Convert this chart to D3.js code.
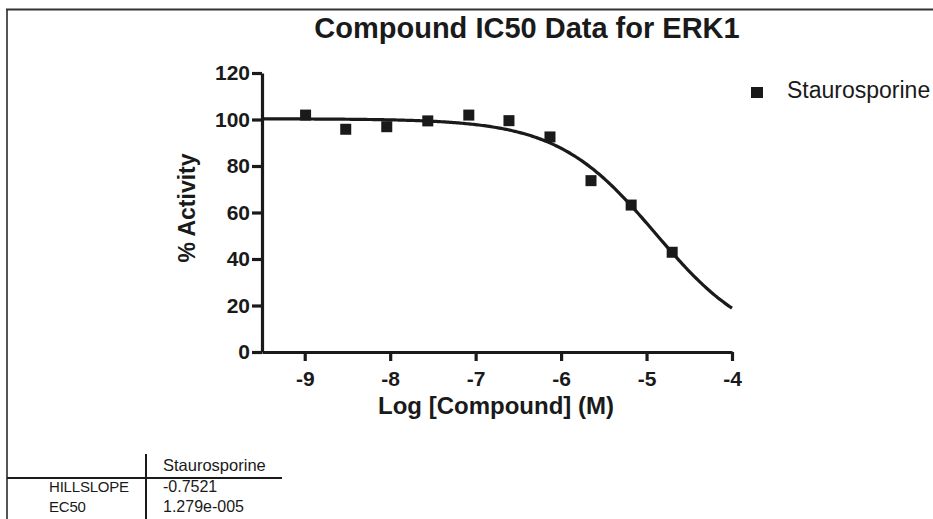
<!DOCTYPE html>
<html>
<head>
<meta charset="utf-8">
<script src="https://cdn.jsdelivr.net/npm/d3@7"></script>
<style>
  html, body { margin: 0; padding: 0; background: #fff; }
  svg { display: block; font-family: "Liberation Sans", Arial, sans-serif; }
</style>
</head>
<body>
<svg id="chart" width="933" height="519"></svg>
<script>
// ---- data ----
const title = "Compound IC50 Data for ERK1";
const seriesName = "Staurosporine";
const logConc = [-8.99, -8.52, -8.04, -7.56, -7.08, -6.61, -6.13, -5.65, -5.18, -4.70];
const activity = [101.9, 95.8, 96.9, 99.4, 101.9, 99.5, 92.5, 73.7, 63.2, 42.9];
const xTicks = [-9, -8, -7, -6, -5, -4];
const yTicks = [0, 20, 40, 60, 80, 100, 120];
const tableRows = ["HILLSLOPE", "EC50"];
const tableValues = ["-0.7521", "1.279e-005"];
// fit parameters (from the results table)
const hillSlope = -0.7521;
const ec50 = 1.279e-5;
const fitTop = 100.3;
const fitBottom = 1.5;

// ---- layout ----
const svg = d3.select("#chart");
const x = d3.scaleLinear().domain([-9.5, -4]).range([262, 732]);
const y = d3.scaleLinear().domain([0, 120]).range([352, 73]);
const ink = "#1a1a1a";

// frame
svg.append("line").attr("x1", 7).attr("x2", 7).attr("y1", 9).attr("y2", 519)
  .attr("stroke", "#555").attr("stroke-width", 2);
svg.append("line").attr("x1", 6).attr("x2", 933).attr("y1", 9.5).attr("y2", 9.5)
  .attr("stroke", "#333").attr("stroke-width", 2);

// title
svg.append("text").attr("x", 527).attr("y", 38).attr("text-anchor", "middle")
  .attr("font-size", 29).attr("font-weight", "bold").attr("fill", ink).text(title);

// axes
const yAxis = svg.append("g").attr("transform", `translate(${x(-9.5)},0)`)
  .call(d3.axisLeft(y).tickValues(yTicks).tickSize(10).tickSizeOuter(0).tickPadding(2));
const xAxis = svg.append("g").attr("transform", `translate(0,${y(0)})`)
  .call(d3.axisBottom(x).tickValues(xTicks).tickFormat(d3.format("d")).tickSize(9).tickSizeOuter(0).tickPadding(10));
[yAxis, xAxis].forEach(g => {
  g.select(".domain").attr("stroke", ink).attr("stroke-width", 3.2);
  g.selectAll(".tick line").attr("stroke", ink).attr("stroke-width", 3.2);
  g.selectAll(".tick text").attr("fill", ink).attr("font-size", 21).attr("font-weight", "bold")
    .attr("font-family", "Liberation Sans, Arial, sans-serif");
});
xAxis.selectAll(".tick text").text(d => d3.format("d")(d).replace("−", "-"));

// axis titles
svg.append("text").attr("x", 496).attr("y", 414).attr("text-anchor", "middle")
  .attr("font-size", 24).attr("font-weight", "bold").attr("fill", ink).text("Log [Compound] (M)");
svg.append("text").attr("transform", "translate(195,208) rotate(-90)").attr("text-anchor", "middle")
  .attr("font-size", 23).attr("font-weight", "bold").attr("fill", ink).text("% Activity");

// fitted curve
const logEC50 = Math.log10(ec50);
const curveX = d3.range(-9.5, -4.0001, 0.02).concat([-4]);
const fit = v => fitBottom + (fitTop - fitBottom) / (1 + Math.pow(10, (logEC50 - v) * hillSlope));
svg.append("path")
  .datum(curveX)
  .attr("d", d3.line().x(d => x(d)).y(d => y(fit(d))).curve(d3.curveLinear))
  .attr("fill", "none").attr("stroke", ink).attr("stroke-width", 3.2);

// points
const sz = 11;
svg.append("g").selectAll("rect").data(logConc).join("rect")
  .attr("x", d => x(d) - sz / 2)
  .attr("y", (d, i) => y(activity[i]) - sz / 2)
  .attr("width", sz).attr("height", sz).attr("fill", ink);

// legend
svg.append("rect").attr("x", 751).attr("y", 87).attr("width", 12).attr("height", 11).attr("fill", ink);
svg.append("text").attr("x", 787).attr("y", 98).attr("font-size", 23).attr("fill", ink).text(seriesName);

// results table
svg.append("line").attr("x1", 146).attr("x2", 146).attr("y1", 454).attr("y2", 519)
  .attr("stroke", ink).attr("stroke-width", 2);
svg.append("line").attr("x1", 7).attr("x2", 282).attr("y1", 478).attr("y2", 478)
  .attr("stroke", ink).attr("stroke-width", 2);
svg.append("text").attr("x", 163).attr("y", 471).attr("font-size", 16.5).attr("fill", ink).text(seriesName);
const rowY = [492, 512];
tableRows.forEach((r, i) => {
  svg.append("text").attr("x", 49).attr("y", rowY[i]).attr("font-size", 15).attr("fill", ink)
    .attr("letter-spacing", -0.2).text(r);
  svg.append("text").attr("x", 163).attr("y", rowY[i]).attr("font-size", 16).attr("fill", ink).text(tableValues[i]);
});
</script>
</body>
</html>
